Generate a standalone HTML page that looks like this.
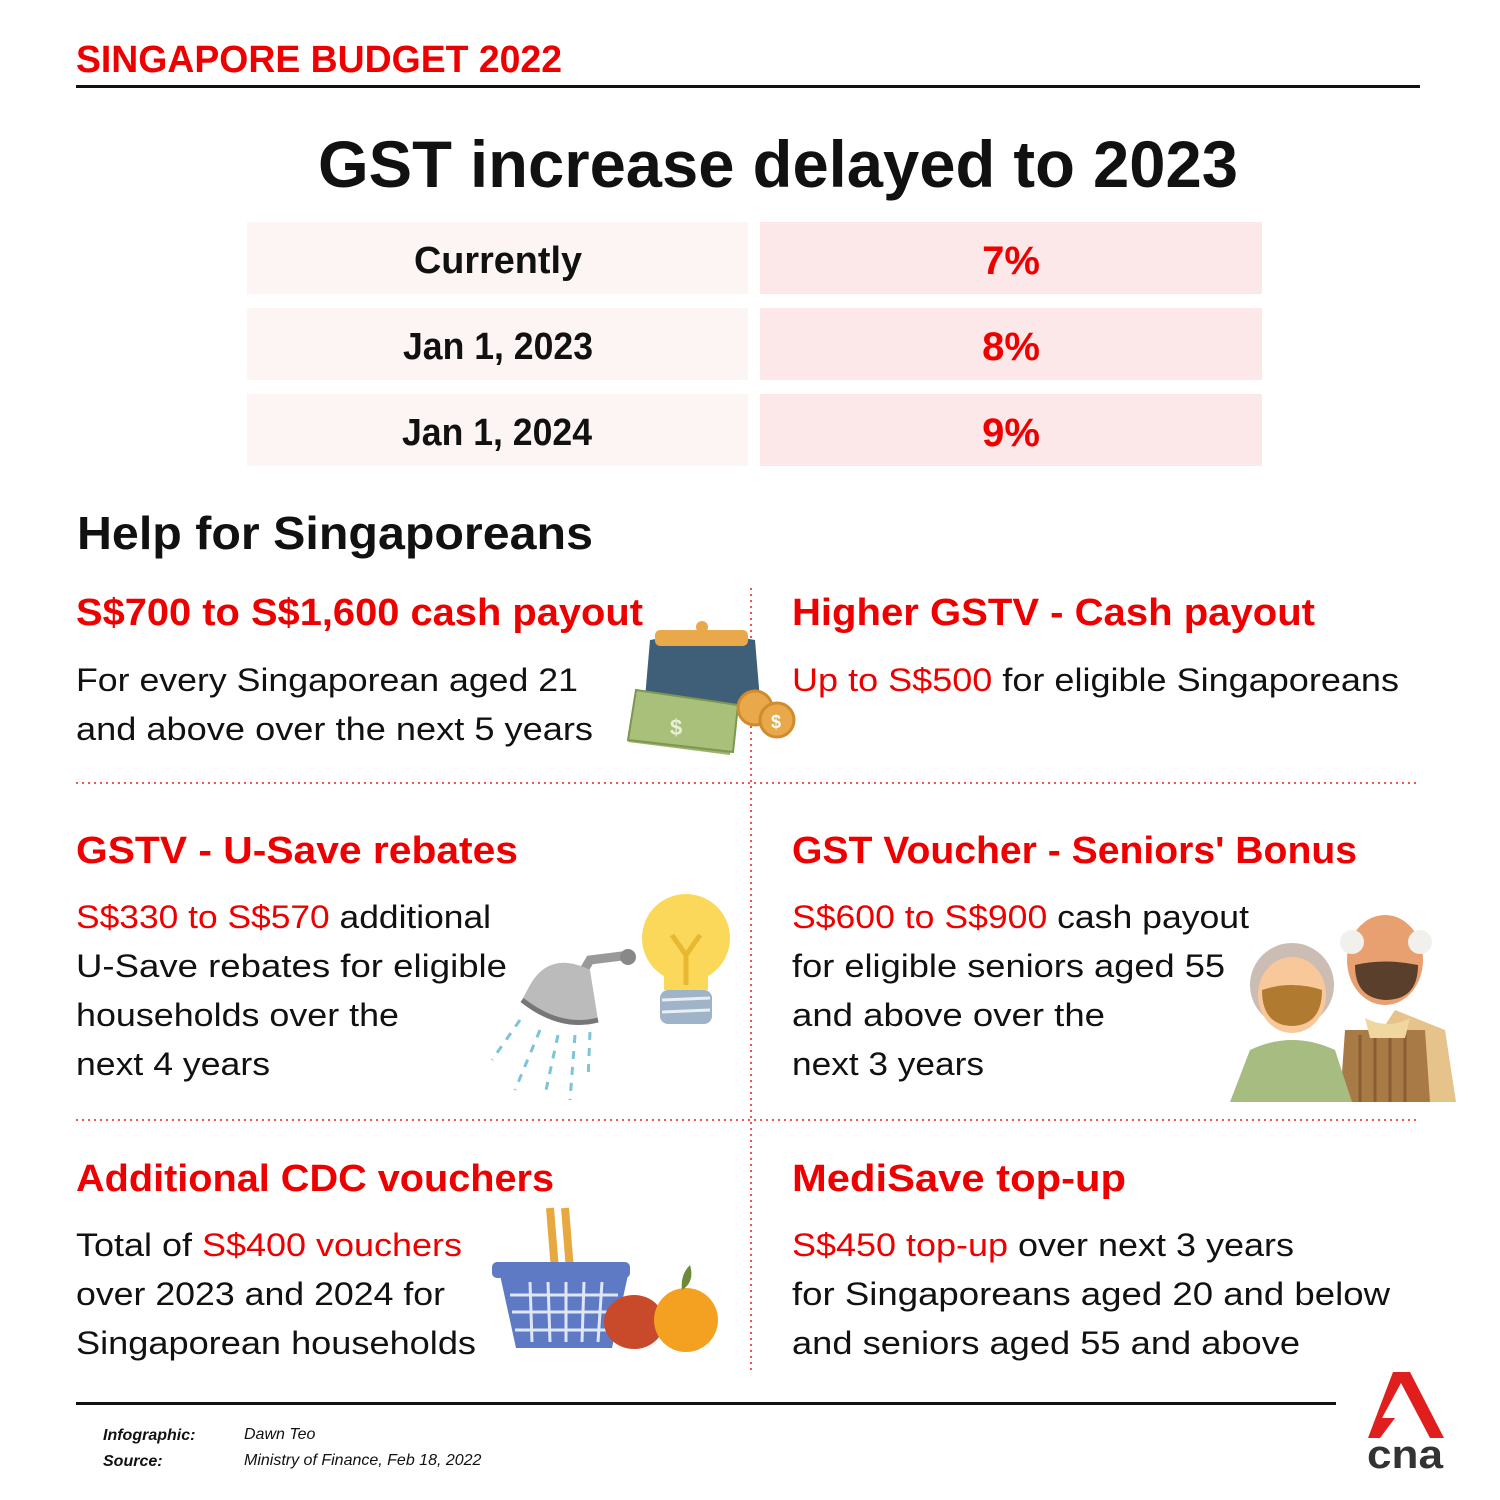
<!DOCTYPE html>
<html><head><meta charset="utf-8"><style>
html,body{margin:0;padding:0;background:#fff}
svg{display:block}
text{font-family:"Liberation Sans",sans-serif}
</style></head><body>
<svg width="1500" height="1500" viewBox="0 0 1500 1500" xmlns="http://www.w3.org/2000/svg">
<rect width="1500" height="1500" fill="#fff"/>
<text x="76" y="72" font-size="38" font-weight="bold" fill="#e00" textLength="486" lengthAdjust="spacingAndGlyphs">SINGAPORE BUDGET 2022</text>
<rect x="76" y="85" width="1344" height="3" fill="#111"/>
<text x="318" y="187" font-size="66" font-weight="bold" fill="#111" textLength="920" lengthAdjust="spacingAndGlyphs">GST increase delayed to 2023</text>
<g>
<rect x="247" y="222" width="501" height="72" fill="#fdf4f4"/>
<rect x="760" y="222" width="502" height="72" fill="#fce8e8"/>
<rect x="247" y="308" width="501" height="72" fill="#fdf4f4"/>
<rect x="760" y="308" width="502" height="72" fill="#fce8e8"/>
<rect x="247" y="394" width="501" height="72" fill="#fdf4f4"/>
<rect x="760" y="394" width="502" height="72" fill="#fce8e8"/>
<g font-size="38" font-weight="bold" text-anchor="middle" fill="#111">
<text x="498" y="273" textLength="168" lengthAdjust="spacingAndGlyphs">Currently</text>
<text x="498" y="359" textLength="190" lengthAdjust="spacingAndGlyphs">Jan 1, 2023</text>
<text x="497" y="445" textLength="190" lengthAdjust="spacingAndGlyphs">Jan 1, 2024</text>
</g>
<g font-size="40" font-weight="bold" text-anchor="middle" fill="#e00">
<text x="1011" y="274">7%</text>
<text x="1011" y="360">8%</text>
<text x="1011" y="446">9%</text>
</g>
</g>
<text x="77" y="549" font-size="46" font-weight="bold" fill="#111" textLength="516" lengthAdjust="spacingAndGlyphs">Help for Singaporeans</text>
<g stroke="#e55" stroke-width="2" stroke-dasharray="2 4">
<line x1="751" y1="588" x2="751" y2="1372"/>
<line x1="76" y1="783" x2="1418" y2="783"/>
<line x1="76" y1="1120" x2="1418" y2="1120"/>
</g>
<g font-size="38" font-weight="bold" fill="#e00">
<text x="76" y="625" textLength="567" lengthAdjust="spacingAndGlyphs">S$700 to S$1,600 cash payout</text>
<text x="792" y="625" textLength="523" lengthAdjust="spacingAndGlyphs">Higher GSTV - Cash payout</text>
<text x="76" y="863" textLength="442" lengthAdjust="spacingAndGlyphs">GSTV - U-Save rebates</text>
<text x="792" y="863" textLength="565" lengthAdjust="spacingAndGlyphs">GST Voucher - Seniors' Bonus</text>
<text x="76" y="1191" textLength="478" lengthAdjust="spacingAndGlyphs">Additional CDC vouchers</text>
<text x="792" y="1191" textLength="334" lengthAdjust="spacingAndGlyphs">MediSave top-up</text>
</g>
<g font-size="32" fill="#111">
<text x="76" y="691" textLength="502" lengthAdjust="spacingAndGlyphs">For every Singaporean aged 21</text>
<text x="76" y="740" textLength="517" lengthAdjust="spacingAndGlyphs">and above over the next 5 years</text>
<text x="792" y="691" textLength="607" lengthAdjust="spacingAndGlyphs"><tspan fill="#e00">Up to S$500</tspan> for eligible Singaporeans</text>
<text x="76" y="928" textLength="415" lengthAdjust="spacingAndGlyphs"><tspan fill="#e00">S$330 to S$570</tspan> additional</text>
<text x="76" y="977" textLength="431" lengthAdjust="spacingAndGlyphs">U-Save rebates for eligible</text>
<text x="76" y="1026" textLength="323" lengthAdjust="spacingAndGlyphs">households over the</text>
<text x="76" y="1075" textLength="194" lengthAdjust="spacingAndGlyphs">next 4 years</text>
<text x="792" y="928" textLength="457" lengthAdjust="spacingAndGlyphs"><tspan fill="#e00">S$600 to S$900</tspan> cash payout</text>
<text x="792" y="977" textLength="433" lengthAdjust="spacingAndGlyphs">for eligible seniors aged 55</text>
<text x="792" y="1026" textLength="313" lengthAdjust="spacingAndGlyphs">and above over the</text>
<text x="792" y="1075" textLength="192" lengthAdjust="spacingAndGlyphs">next 3 years</text>
<text x="76" y="1256" textLength="386" lengthAdjust="spacingAndGlyphs">Total of <tspan fill="#e00">S$400 vouchers</tspan></text>
<text x="76" y="1305" textLength="369" lengthAdjust="spacingAndGlyphs">over 2023 and 2024 for</text>
<text x="76" y="1354" textLength="400" lengthAdjust="spacingAndGlyphs">Singaporean households</text>
<text x="792" y="1256" textLength="502" lengthAdjust="spacingAndGlyphs"><tspan fill="#e00">S$450 top-up</tspan> over next 3 years</text>
<text x="792" y="1305" textLength="598" lengthAdjust="spacingAndGlyphs">for Singaporeans aged 20 and below</text>
<text x="792" y="1354" textLength="508" lengthAdjust="spacingAndGlyphs">and seniors aged 55 and above</text>
</g>
<!-- wallet -->
<g>
<path d="M645 700 L735 705 L730 755 L628 742 Z" fill="#9bb36b"/>
<path d="M650 640 Q700 630 755 640 L760 700 Q745 712 700 710 Q660 710 645 698 Z" fill="#3f5f78"/>
<rect x="655" y="630" width="93" height="16" rx="5" fill="#e9a84a"/>
<circle cx="702" cy="627" r="6" fill="#e9a84a"/>
<path d="M636 690 L738 705 L733 752 L628 740 Z" fill="#a8c07a" stroke="#7d9650" stroke-width="2"/>
<text x="670" y="735" font-size="22" font-weight="bold" fill="#e8efd8">$</text>
<circle cx="755" cy="708" r="17" fill="#e9a84a" stroke="#d08a30" stroke-width="3"/>
<circle cx="777" cy="720" r="17" fill="#e9a84a" stroke="#d08a30" stroke-width="3"/>
<text x="771" y="728" font-size="18" font-weight="bold" fill="#fff">$</text>
</g>
<!-- shower + bulb -->
<g>
<path d="M575 985 L590 960 L630 955" stroke="#999" stroke-width="9" fill="none"/>
<circle cx="628" cy="957" r="8" fill="#888"/>
<path d="M530 985 Q550 950 590 970 L598 1020 Q560 1030 522 1000 Z" fill="#bbb"/>
<path d="M522 1000 Q560 1030 598 1020" stroke="#777" stroke-width="5" fill="none"/>
<g stroke="#7cc4d6" stroke-width="3" stroke-dasharray="8 8">
<line x1="520" y1="1020" x2="492" y2="1060"/><line x1="540" y1="1030" x2="515" y2="1090"/>
<line x1="558" y1="1035" x2="545" y2="1095"/><line x1="575" y1="1035" x2="570" y2="1100"/>
<line x1="590" y1="1032" x2="588" y2="1080"/></g>
<circle cx="686" cy="938" r="44" fill="#fbd85a"/>
<rect x="664" y="965" width="44" height="25" fill="#fbd85a"/>
<path d="M672 935 L686 955 L700 935 M686 955 L686 985" stroke="#e8b830" stroke-width="5" fill="none"/>
<rect x="660" y="990" width="52" height="34" rx="8" fill="#9fb4c8"/>
<g stroke="#e8eef4" stroke-width="3"><line x1="662" y1="1000" x2="710" y2="998"/><line x1="662" y1="1012" x2="710" y2="1010"/></g>
</g>
<!-- seniors -->
<g>
<path d="M1395 1010 L1445 1030 L1456 1102 L1335 1102 Z" fill="#e5c38a"/>
<path d="M1345 1030 L1425 1030 L1430 1102 L1340 1102 Z" fill="#a87a45"/>
<g stroke="#8a5e30" stroke-width="3"><line x1="1360" y1="1035" x2="1360" y2="1102"/><line x1="1375" y1="1035" x2="1375" y2="1102"/><line x1="1390" y1="1035" x2="1390" y2="1102"/><line x1="1405" y1="1035" x2="1405" y2="1102"/></g>
<path d="M1365 1018 Q1388 1030 1410 1018 L1405 1038 L1370 1038 Z" fill="#f0d7a0"/>
<ellipse cx="1385" cy="960" rx="38" ry="45" fill="#e9a070"/>
<circle cx="1352" cy="942" r="12" fill="#f2f0ec"/><circle cx="1420" cy="942" r="12" fill="#f2f0ec"/>
<path d="M1355 965 Q1385 958 1418 965 Q1418 1000 1385 1000 Q1355 998 1355 965 Z" fill="#5a3f2c"/>
<circle cx="1292" cy="985" r="42" fill="#cbbdb3"/>
<ellipse cx="1292" cy="995" rx="34" ry="38" fill="#f8c89a"/>
<path d="M1262 990 Q1292 980 1322 990 Q1322 1025 1292 1026 Q1262 1025 1262 990 Z" fill="#b07a30"/>
<path d="M1250 1050 Q1292 1030 1335 1050 L1352 1102 L1230 1102 Z" fill="#a6bc80"/>
</g>
<!-- basket + fruit -->
<g>
<path d="M550 1208 L555 1270 M565 1208 L570 1270" stroke="#e8a840" stroke-width="8"/>
<path d="M500 1275 L628 1275 L612 1348 L516 1348 Z" fill="#5f7ac4"/>
<rect x="492" y="1262" width="138" height="16" rx="5" fill="#5f7ac4"/>
<g stroke="#dfe6f7" stroke-width="3"><line x1="510" y1="1295" x2="618" y2="1295"/><line x1="512" y1="1312" x2="614" y2="1312"/><line x1="515" y1="1330" x2="612" y2="1330"/>
<line x1="530" y1="1282" x2="532" y2="1342"/><line x1="548" y1="1282" x2="550" y2="1342"/><line x1="566" y1="1282" x2="566" y2="1342"/><line x1="584" y1="1282" x2="582" y2="1342"/><line x1="602" y1="1282" x2="598" y2="1342"/></g>
<ellipse cx="634" cy="1322" rx="30" ry="27" fill="#c94a2a"/>
<circle cx="686" cy="1320" r="32" fill="#f4a020"/>
<path d="M682 1290 Q680 1275 690 1265 Q695 1282 682 1290 Z" fill="#6d8a3a"/>
</g>
<rect x="76" y="1402" width="1260" height="3" fill="#111"/>
<g font-size="16" font-style="italic" fill="#111">
<text x="103" y="1440" font-weight="bold">Infographic:</text>
<text x="244" y="1439">Dawn Teo</text>
<text x="103" y="1466" font-weight="bold">Source:</text>
<text x="244" y="1465">Ministry of Finance, Feb 18, 2022</text>
</g>
<!-- cna logo -->
<g>
<path d="M1393 1372 L1410 1372 L1444 1438 L1430 1438 L1401 1383 L1382 1418 L1395 1418 L1380 1438 L1368 1438 Z" fill="#e01e1e"/>
<text x="1405" y="1468" font-size="40" font-weight="bold" fill="#333" text-anchor="middle" textLength="76" lengthAdjust="spacingAndGlyphs">cna</text>
</g>
</svg>
</body></html>
